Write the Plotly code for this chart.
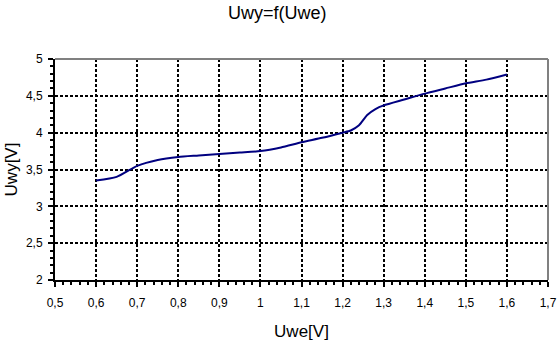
import plotly.graph_objects as go

# Input voltage Uwe [V] and output voltage Uwy [V]
uwe = [0.60, 0.65, 0.70, 0.75, 0.80, 0.85, 0.90, 0.95, 1.00, 1.05, 1.10, 1.15,
       1.20, 1.22, 1.24, 1.26, 1.28, 1.30, 1.35, 1.40, 1.45, 1.50, 1.55, 1.60]
uwy = [3.35, 3.40, 3.55, 3.63, 3.67, 3.69, 3.71, 3.73, 3.75, 3.80, 3.87, 3.93,
       4.00, 4.03, 4.10, 4.24, 4.32, 4.37, 4.45, 4.53, 4.60, 4.67, 4.72, 4.79]

title_text = "Uwy=f(Uwe)"
x_title = "Uwe[V]"
y_title = "Uwy[V]"

font_family = "Liberation Sans, Arial, sans-serif"

fig = go.Figure()
fig.add_trace(go.Scatter(
    x=uwe, y=uwy, mode="lines",
    line=dict(color="#000080", width=2, shape="spline", smoothing=0.6),
    showlegend=False, hoverinfo="skip",
))

grid_style = dict(showgrid=True, gridcolor="black", gridwidth=1.5, griddash="3px,2px")

fig.update_layout(
    width=560, height=345,
    margin=dict(l=55, r=12, t=59, b=65, autoexpand=False),
    paper_bgcolor="white", plot_bgcolor="white",
    separators=", ",
    font=dict(family=font_family, color="black", size=12),
    title=dict(text=title_text, x=0.495, xanchor="center", y=0.963, yanchor="middle",
               font=dict(size=18, family=font_family, color="black")),
    xaxis=dict(
        range=[0.5, 1.7], dtick=0.1, tick0=0.5, zeroline=False, automargin=False,
        showline=True, linecolor="black", linewidth=2,
        ticks="outside", ticklen=5, tickwidth=1.5, tickcolor="black",
        ticklabelstandoff=6,
        minor=dict(dtick=0.02, ticks="outside", ticklen=3, tickwidth=1.5,
                   tickcolor="black", showgrid=False),
        title=dict(text=x_title, font=dict(size=17), standoff=16),
        tickfont=dict(size=12),
        **grid_style,
    ),
    yaxis=dict(
        range=[2, 5], dtick=0.5, tick0=2, zeroline=False, automargin=False,
        showline=True, linecolor="black", linewidth=2,
        ticks="outside", ticklen=5, tickwidth=1.5, tickcolor="black",
        ticklabelstandoff=3,
        minor=dict(dtick=0.1, ticks="outside", ticklen=3, tickwidth=1.5,
                   tickcolor="black", showgrid=False),
        title=dict(text=y_title, font=dict(size=17), standoff=4),
        tickfont=dict(size=12),
        **grid_style,
    ),
    shapes=[
        # gray frame along the top and right edges of the plot area
        dict(type="line", xref="paper", yref="paper", x0=0, x1=1, y0=1, y1=1,
             line=dict(color="#808080", width=2)),
        dict(type="line", xref="paper", yref="paper", x0=1, x1=1, y0=0, y1=1,
             line=dict(color="#808080", width=2)),
    ],
)

fig.write_html("out.html")
